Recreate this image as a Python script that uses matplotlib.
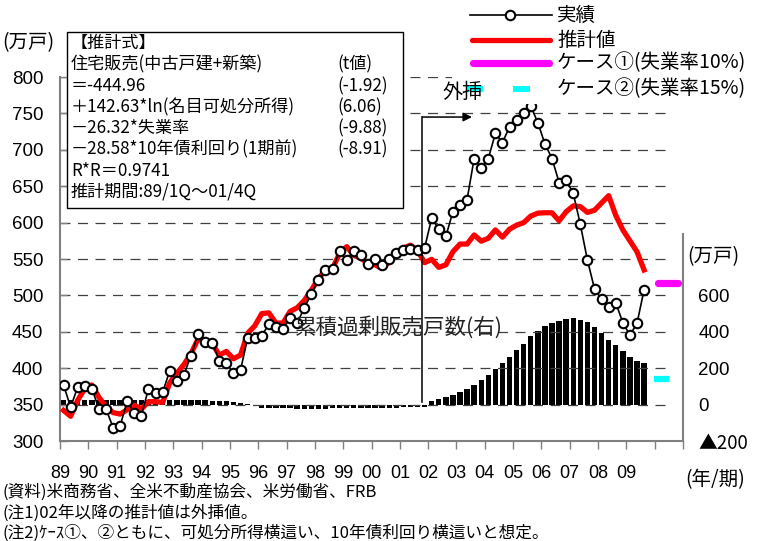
import matplotlib
matplotlib.use("Agg")
import matplotlib.pyplot as plt
from matplotlib.patches import Rectangle
from matplotlib.lines import Line2D
import numpy as np

W, H, DPI = 767, 541, 100
CJK = ['Noto Sans CJK JP', 'DejaVu Sans']
NUM = ['Liberation Sans', 'Noto Sans CJK JP', 'DejaVu Sans']
plt.rcParams['font.family'] = NUM

# ---- data (quarterly, 1989Q1 - 2009Q3) ----
start_year = 1989
actual = [377, 346.5, 374, 375, 372, 344, 344, 318.5, 321, 355,
          338.5, 335, 372, 366, 367, 396.5, 383, 391, 417, 447,
          436.5, 435, 410.5, 407.5, 393, 397.5, 441, 441, 444.5, 460.5,
          457, 454, 468.5, 462, 483, 501.5, 521, 535, 536.5, 561,
          548, 561, 555.5, 543, 550, 541.5, 550, 558, 563, 563.5,
          563, 565, 606, 591, 581, 615, 624, 631.5, 688, 674.5,
          688, 722.5, 710, 731.5, 741, 751, 760, 737, 708, 688,
          655, 658.5, 640, 597.5, 548.5, 509, 494.5, 483.5, 490, 462.5,
          445.5, 461.5, 507.5]
estimate = [342, 334, 356, 372, 377, 360, 347, 339, 337, 343,
            349, 344, 354, 354, 353, 380, 393, 405, 420, 440,
            437, 434, 418, 423, 413, 418, 448, 458, 475, 476,
            462, 462, 478, 483, 493, 507, 523, 535, 537, 558,
            567, 555, 551, 544, 542, 537, 546, 558, 565, 569,
            562, 545, 549.5, 538.5, 542, 560, 570.5, 570.5, 583, 574.5,
            578.5, 590, 580, 591, 596.5, 600, 609, 613, 613.5, 613.5,
            602.5, 615, 623, 622, 614, 617, 627, 637, 610, 590,
            575, 560, 535]
# cumulative excess sales (right axis, 万戸)
excess_stock = [26, 26, 26, 26, 26, 26, 26, 25, 25, 25,
                25, 25, 25, 25, 25, 25, 25, 26, 26, 26,
                25, 22, 20, 18, 13, 10, 6, 0, -16, -17,
                -18, -20, -20, -22, -22, -22, -22, -22, -20, -20,
                -18, -18, -18, -18, -18, -17, -17, -17, -15, -15,
                -14, -14, 18, 33, 42, 55, 70, 86, 110, 134,
                163, 198, 229, 262, 299, 335, 375, 407, 430, 449,
                462, 471, 476, 467, 454, 429, 394, 355, 326, 295,
                262, 238, 229]
case1_value = 517   # unemployment 10%
case2_value = 385   # unemployment 15%
year_labels = ['89', '90', '91', '92', '93', '94', '95', '96', '97', '98',
               '99', '00', '01', '02', '03', '04', '05', '06', '07', '08', '09']
left_ticks = [300, 350, 400, 450, 500, 550, 600, 650, 700, 750, 800]
right_ticks = [-200, 0, 200, 400, 600]
right_labels = ['▲200', '0', '200', '400', '600']

quarters = start_year + (np.arange(len(actual)) + 0.5) / 4.0


def fx(px):
    return px / W


def fy(py):
    return 1 - py / H


fig = plt.figure(figsize=(W / DPI, H / DPI), dpi=DPI)
ax = fig.add_axes([fx(60), fy(441), 623 / W, 364 / H])
ax2 = ax.twinx()
ax.set_zorder(2)
ax2.set_zorder(1)
ax.patch.set_visible(False)

ax.set_xlim(1989, 2011)
ax.set_ylim(300, 800)
ax2.set_ylim(-200, 1800)

spine_col = '#808080'
for s in ['top', 'right']:
    ax.spines[s].set_visible(False)
for s in ['top', 'left', 'bottom']:
    ax2.spines[s].set_visible(False)
ax.spines['left'].set_color(spine_col)
ax.spines['left'].set_linewidth(1.5)
ax.spines['bottom'].set_color(spine_col)
ax.spines['bottom'].set_linewidth(1.5)
ax2.spines['right'].set_color(spine_col)
ax2.spines['right'].set_linewidth(1.5)
ax2.spines['right'].set_bounds(-200, 940)

# dashed horizontal guides
for v in left_ticks[1:]:
    ax.axhline(v, xmin=0, xmax=0.976, color='#404040', lw=0.9,
               ls=(0, (8, 6)), zorder=0.5)

# bars on the right axis
ax2.bar(quarters, excess_stock, width=0.19, color='black', zorder=2)

# estimated and actual sales
ax.plot(quarters, estimate, color='#ff0000', lw=3.8, zorder=3)
ax.plot(quarters, actual, color='black', lw=1.2, marker='o', ms=6.8,
        mfc='white', mec='black', mew=1.5, zorder=4)

# scenario levels for 2010
ax.plot([2010.12, 2010.82], [case1_value, case1_value], color='#ff00ff',
        lw=5.2, solid_capstyle='round', zorder=3, clip_on=False)
ax.plot([2009.97, 2010.5], [case2_value, case2_value], color='#00ffff',
        lw=4.5, solid_capstyle='butt', zorder=3, clip_on=False)

# extrapolation marker
ax.plot([2001.8, 2001.8], [353.6, 745], color='black', lw=1.1, zorder=4)
ax.annotate('', xy=(2003.55, 745), xytext=(2001.8, 745),
            arrowprops=dict(arrowstyle='-|>', color='black', lw=1.1,
                            mutation_scale=13, shrinkA=0, shrinkB=0),
            zorder=4)

# axis ticks and labels
ax.set_xticks(range(1989, 2012))
ax.set_xticklabels(year_labels + ['', ''])
ax.tick_params(axis='x', direction='out', length=6, width=1,
               color=spine_col, labelsize=13, pad=11)
ax.set_yticks(left_ticks)
ax.set_yticklabels([str(v) for v in left_ticks])
ax.tick_params(axis='y', direction='in', length=5, width=1,
               color=spine_col, labelsize=13.5, pad=12)
ax2.set_yticks(right_ticks)
ax2.set_yticklabels(right_labels)
ax2.tick_params(axis='y', length=0, labelsize=13.5, pad=11)
for lab in ax2.get_yticklabels():
    if lab.get_text().startswith('▲'):
        lab.set_fontfamily(CJK)
    else:
        lab.set_fontfamily(NUM)

# unit labels
fig.text(fx(2), fy(43), '(万戸)', fontsize=14, family=CJK, va='center')
fig.text(fx(687), fy(257), '(万戸)', fontsize=14, family=CJK, va='center')
fig.text(fx(685), fy(480), '(年/期)', fontsize=14, family=CJK, va='center')
fig.text(fx(295), fy(327), '累積過剰販売戸数(右)', fontsize=15.5, family=CJK,
         va='center', color='#222222', zorder=6)

# regression box
fig.add_artist(Rectangle((fx(67), fy(208)), 336 / W, 176 / H,
                         transform=fig.transFigure, facecolor='white',
                         edgecolor='black', lw=1, zorder=5))
box_lines = [
    ('【推計式】', ''),
    ('住宅販売(中古戸建+新築)', '(t値)'),
    ('＝-444.96', '(-1.92)'),
    ('＋142.63*ln(名目可処分所得)', '(6.06)'),
    ('－26.32*失業率', '(-9.88)'),
    ('－28.58*10年債利回り(1期前)', '(-8.91)'),
    ('R*R＝0.9741', ''),
    ('推計期間:89/1Q～01/4Q', ''),
]
row_y = [43, 64, 86, 107, 128, 149, 171, 192]
for (left_txt, right_txt), yy in zip(box_lines, row_y):
    fig.text(fx(71), fy(yy), left_txt, fontsize=12.3, family=CJK,
             va='center', zorder=6)
    if right_txt:
        fig.text(fx(337), fy(yy), right_txt, fontsize=12.3, family=CJK,
                 va='center', zorder=6)

# legend
fig.add_artist(Rectangle((fx(452), fy(104)), (W - 452) / W, 104 / H,
                         transform=fig.transFigure, facecolor='white',
                         edgecolor='none', zorder=5))
fig.add_artist(Line2D([fx(470), fx(552)], [fy(15), fy(15)], color='black',
                      lw=1.2, transform=fig.transFigure, zorder=6))
fig.add_artist(Line2D([fx(510)], [fy(15)], color='black', marker='o', ms=6.8,
                      mfc='white', mec='black', mew=1.5,
                      transform=fig.transFigure, zorder=6))
fig.add_artist(Line2D([fx(472), fx(550)], [fy(40), fy(40)], color='#ff0000',
                      lw=3.8, solid_capstyle='round',
                      transform=fig.transFigure, zorder=6))
fig.add_artist(Line2D([fx(473), fx(549)], [fy(63), fy(63)], color='#ff00ff',
                      lw=5.2, solid_capstyle='round',
                      transform=fig.transFigure, zorder=6))
fig.add_artist(Rectangle((fx(513), fy(92)), 17 / W, 6 / H,
                         transform=fig.transFigure, facecolor='#00ffff',
                         edgecolor='none', zorder=6))
fig.add_artist(Rectangle((fx(467), fy(92)), 16 / W, 6 / H,
                         transform=fig.transFigure, facecolor='#00ffff',
                         edgecolor='none', zorder=6))
legend_items = ['実績', '推計値', 'ケース①(失業率10%)', 'ケース②(失業率15%)']
legend_y = [15, 40, 63, 89]
for txt, yy in zip(legend_items, legend_y):
    fig.text(fx(557), fy(yy), txt, fontsize=14, family=CJK, va='center',
             zorder=7)
fig.text(fx(442), fy(93), '外挿', fontsize=14.5, family=CJK, va='center',
         zorder=7)

# notes
notes = ['(資料)米商務省、全米不動産協会、米労働省、FRB',
         '(注1)02年以降の推計値は外挿値。',
         '(注2)ｹｰｽ①、②ともに、可処分所得横這い、10年債利回り横這いと想定。']
for txt, yy in zip(notes, [497, 518, 538]):
    fig.text(fx(2), fy(yy), txt, fontsize=12, family=CJK, va='baseline')

fig.savefig('out.png', dpi=DPI)
